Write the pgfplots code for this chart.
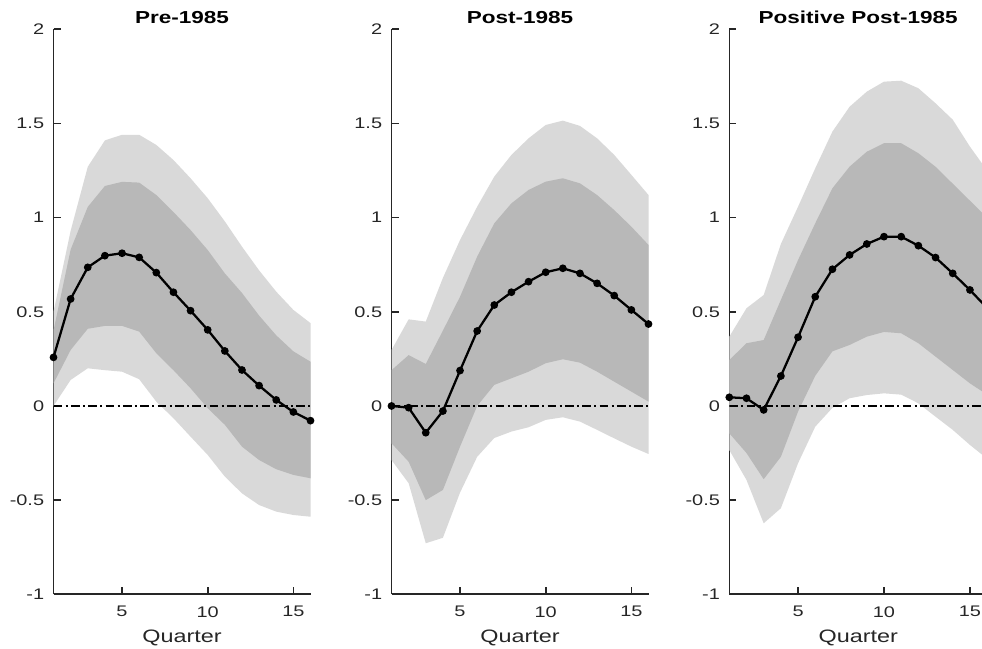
\documentclass[border=0pt]{standalone}
\usepackage{fontspec}
\setmainfont{Liberation Sans}[FakeStretch=1.3]
\usepackage{pgfplots}
\pgfplotsset{compat=1.18}
\usepackage{pgfplotstable}
\usepgfplotslibrary{fillbetween}

\definecolor{lightband}{gray}{0.85}
\definecolor{darkband}{gray}{0.72}
\definecolor{axisgray}{RGB}{38,38,38}

% x  irf  lo90  lo68  hi68  hi90
\pgfplotstableread{
x irf lo90 lo68 hi68 hi90
1 0.258 0.000 0.120 0.400 0.500
2 0.568 0.138 0.297 0.830 0.930
3 0.736 0.200 0.410 1.057 1.270
4 0.798 0.190 0.425 1.168 1.410
5 0.811 0.182 0.425 1.190 1.440
6 0.789 0.142 0.395 1.186 1.440
7 0.708 0.023 0.280 1.120 1.386
8 0.604 -0.065 0.190 1.030 1.306
9 0.506 -0.163 0.094 0.934 1.209
10 0.404 -0.260 -0.012 0.828 1.103
11 0.292 -0.375 -0.100 0.704 0.980
12 0.191 -0.464 -0.216 0.600 0.846
13 0.108 -0.526 -0.287 0.480 0.720
14 0.032 -0.561 -0.336 0.375 0.607
15 -0.032 -0.579 -0.366 0.290 0.510
16 -0.078 -0.588 -0.384 0.235 0.440
}\preA

\pgfplotstableread{
x irf lo90 lo68 hi68 hi90
1 0.000 -0.287 -0.198 0.190 0.297
2 -0.009 -0.410 -0.296 0.270 0.460
3 -0.142 -0.729 -0.500 0.223 0.448
4 -0.027 -0.700 -0.446 0.400 0.680
5 0.188 -0.460 -0.216 0.580 0.881
6 0.398 -0.270 0.000 0.793 1.058
7 0.536 -0.170 0.112 0.970 1.218
8 0.604 -0.136 0.147 1.076 1.333
9 0.660 -0.113 0.182 1.147 1.421
10 0.710 -0.074 0.227 1.191 1.492
11 0.731 -0.060 0.248 1.209 1.515
12 0.704 -0.083 0.230 1.182 1.487
13 0.651 -0.127 0.182 1.120 1.421
14 0.586 -0.172 0.129 1.040 1.333
15 0.510 -0.216 0.076 0.952 1.227
16 0.435 -0.255 0.023 0.855 1.120
}\postB

\pgfplotstableread{
x irf lo90 lo68 hi68 hi90
1 0.046 -0.234 -0.145 0.244 0.368
2 0.041 -0.393 -0.250 0.333 0.519
3 -0.021 -0.623 -0.389 0.350 0.589
4 0.159 -0.543 -0.270 0.563 0.860
5 0.365 -0.304 -0.030 0.775 1.058
6 0.580 -0.110 0.160 0.970 1.262
7 0.726 -0.010 0.290 1.156 1.457
8 0.802 0.041 0.324 1.271 1.589
9 0.860 0.058 0.368 1.350 1.669
10 0.899 0.067 0.393 1.395 1.722
11 0.899 0.060 0.386 1.395 1.727
12 0.851 0.014 0.333 1.342 1.687
13 0.788 -0.057 0.262 1.270 1.607
14 0.704 -0.127 0.191 1.180 1.520
15 0.616 -0.207 0.120 1.090 1.377
16 0.520 -0.280 0.060 1.000 1.250
}\posC

\pgfplotsset{irfaxis/.style={
  scale only axis, width=192.75pt, height=423.75pt,
  xmin=1, xmax=16, ymin=-1, ymax=2,
  axis x line*=bottom, axis y line*=left,
  axis line style={axisgray, line width=1.2pt},
  tick align=inside, major tick length=5.25pt,
  major tick style={axisgray, line width=1.2pt},
  xtick={5,10,15}, xticklabels={5,10,15},
  ytick={-1,-0.5,0,0.5,1,1.5,2}, yticklabels={-1,-0.5,0,0.5,1,1.5,2},
  ticklabel style={font=\fontsize{11.5}{14}\selectfont, text=axisgray},
  yticklabel style={xshift=-3.5pt},
  xticklabel style={yshift=-5.5pt},
  xlabel={Quarter},
  xlabel style={font=\fontsize{13.5}{16}\selectfont, text=axisgray, at={(axis cs:8.5,-1)}, anchor=base, yshift=-36.5pt},
  title style={font=\bfseries\fontsize{13}{15}\selectfont, at={(axis cs:8.5,2)}, anchor=base, yshift=-1.5pt},
  clip=false,
  anchor=south west,
}}

\newcommand{\irfpanel}[2]{%
  \addplot[name path=#2hi90, draw=none] table[x=x,y=hi90]{#1};
  \addplot[name path=#2lo90, draw=none] table[x=x,y=lo90]{#1};
  \addplot[lightband, draw=none] fill between[of=#2hi90 and #2lo90];
  \addplot[name path=#2hi68, draw=none] table[x=x,y=hi68]{#1};
  \addplot[name path=#2lo68, draw=none] table[x=x,y=lo68]{#1};
  \addplot[darkband, draw=none] fill between[of=#2hi68 and #2lo68];
  \addplot[black, line width=1.1pt, dash pattern=on 6.5pt off 2.5pt on 1.5pt off 2.5pt] coordinates {(1,0) (16,0)};
  \addplot[black, line width=1.7pt, mark=*, mark size=2pt] table[x=x,y=irf]{#1};
}

\begin{document}
\begin{tikzpicture}
\begin{axis}[irfaxis, at={(40.125pt,41.025pt)}, title={Pre-1985}]
\irfpanel{\preA}{pa}
\end{axis}
\begin{axis}[irfaxis, at={(293.625pt,41.025pt)}, title={Post-1985}]
\irfpanel{\postB}{pb}
\end{axis}
\begin{axis}[irfaxis, at={(546.975pt,41.025pt)}, width=189.5pt, xmax=15.7, clip=true,
  title={Positive Post-1985}]
\irfpanel{\posC}{pc}
\end{axis}
\pgfresetboundingbox
\path[use as bounding box] (0pt,0pt) rectangle (736.5pt,486.75pt);
\end{tikzpicture}
\end{document}
